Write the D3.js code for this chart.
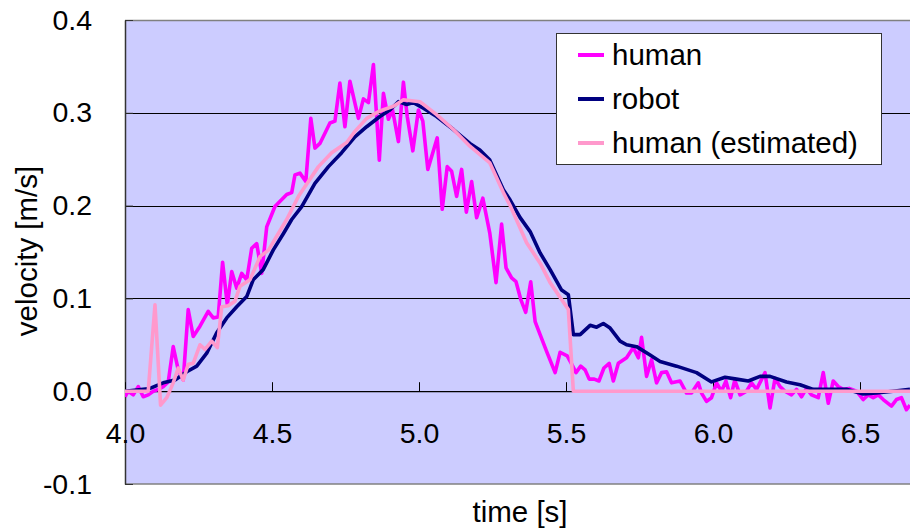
<!DOCTYPE html>
<html>
<head>
<meta charset="utf-8">
<script src="https://cdn.jsdelivr.net/npm/d3@7"></script>
<style>
  body { margin: 0; background: #fff; }
  text { font-family: "Liberation Sans", Arial, sans-serif; fill: #000; }
</style>
</head>
<body>
<div id="chart"></div>
<script>
// velocity vs time: human / robot / human (estimated)

// series names + colours (legend order)
const seriesNames = ["human", "robot", "human (estimated)"];
const seriesColors = ["#FF00FF", "#000080", "#FF99CC"];

// human measured
const humanT = [4.000,4.011,4.028,4.045,4.062,4.079,4.096,4.113,4.130,4.147,4.164,4.181,4.198,4.215,4.232,4.255,4.283,4.300,4.317,4.332,
  4.348,4.363,4.380,4.397,4.414,4.431,4.448,4.465,4.482,4.510,4.550,4.567,4.578,4.595,4.615,4.632,4.646,4.663,4.697,4.714,
  4.731,4.748,4.765,4.794,4.811,4.828,4.845,4.865,4.879,4.896,4.910,4.930,4.947,4.960,4.979,4.998,5.013,5.030,5.062,5.079,
  5.096,5.111,5.128,5.145,5.161,5.179,5.196,5.217,5.241,5.262,5.281,5.296,5.315,5.330,5.346,5.363,5.380,5.395,5.412,5.434,
  5.463,5.480,5.504,5.518,5.534,5.550,5.565,5.579,5.596,5.612,5.629,5.647,5.661,5.678,5.706,5.729,5.746,5.757,5.774,5.791,
  5.808,5.825,5.842,5.859,5.888,5.910,5.927,5.950,5.961,5.978,5.995,6.012,6.029,6.044,6.060,6.074,6.092,6.114,6.131,6.148,
  6.177,6.194,6.211,6.228,6.245,6.267,6.284,6.301,6.318,6.335,6.358,6.375,6.392,6.409,6.426,6.443,6.463,6.488,6.511,6.528,
  6.545,6.562,6.579,6.607,6.624,6.641,6.658,6.670];
const humanV = [-0.006,0.000,-0.004,0.005,-0.006,-0.004,0.000,0.002,0.005,0.010,0.048,0.023,0.012,0.088,0.059,0.070,0.086,0.079,0.080,0.139,
  0.093,0.129,0.111,0.127,0.120,0.154,0.159,0.127,0.177,0.199,0.212,0.214,0.233,0.235,0.226,0.294,0.262,0.267,0.289,0.291,
  0.332,0.285,0.334,0.294,0.315,0.311,0.352,0.249,0.321,0.293,0.303,0.269,0.333,0.296,0.259,0.303,0.291,0.239,0.273,0.196,
  0.242,0.237,0.210,0.239,0.193,0.226,0.187,0.208,0.170,0.117,0.180,0.133,0.122,0.118,0.099,0.085,0.118,0.075,0.061,0.043,
  0.020,0.042,0.038,0.030,0.020,0.027,0.023,0.013,0.013,0.011,0.025,0.030,0.011,0.030,0.036,0.047,0.036,0.058,0.016,0.034,
  0.009,0.020,0.021,0.009,0.011,-0.002,-0.002,0.009,-0.002,-0.011,-0.007,0.009,0.000,0.011,-0.007,0.012,-0.004,0.000,0.009,0.002,
  0.020,-0.018,0.014,0.005,0.000,-0.004,0.002,-0.006,0.003,-0.004,-0.007,0.020,-0.013,0.011,0.005,0.002,0.003,0.000,-0.009,-0.004,
  -0.007,-0.004,-0.009,-0.016,-0.009,-0.007,-0.020,-0.015];

// robot
const robotT = [4.000,4.085,4.130,4.170,4.210,4.244,4.278,4.312,4.346,4.380,4.414,4.436,4.470,4.504,4.539,4.567,4.601,4.646,4.692,4.737,
  4.782,4.822,4.867,4.901,4.930,4.958,4.981,5.015,5.060,5.117,5.173,5.207,5.241,5.287,5.310,5.344,5.378,5.412,5.446,5.485,
  5.508,5.525,5.548,5.582,5.604,5.627,5.650,5.684,5.706,5.740,5.786,5.820,5.876,5.944,5.995,6.041,6.080,6.120,6.160,6.194,
  6.250,6.296,6.341,6.397,6.454,6.511,6.556,6.612,6.670];
const robotV = [0.000,0.003,0.009,0.012,0.021,0.027,0.041,0.063,0.079,0.091,0.102,0.120,0.131,0.152,0.170,0.185,0.199,0.224,0.242,0.257,
  0.274,0.285,0.296,0.303,0.312,0.309,0.311,0.305,0.296,0.282,0.267,0.260,0.249,0.217,0.206,0.187,0.172,0.149,0.131,0.109,
  0.104,0.061,0.061,0.071,0.069,0.073,0.068,0.054,0.050,0.048,0.039,0.032,0.027,0.020,0.010,0.015,0.013,0.011,0.016,0.016,
  0.010,0.007,0.002,0.002,0.002,-0.003,-0.002,0.000,0.002];

// human (estimated)
const estT = [4.000,4.079,4.102,4.121,4.142,4.164,4.181,4.198,4.215,4.232,4.255,4.272,4.295,4.314,4.329,4.351,4.374,4.391,4.425,4.459,
  4.488,4.516,4.550,4.590,4.658,4.703,4.754,4.782,4.822,4.867,4.913,4.947,5.003,5.060,5.117,5.173,5.241,5.287,5.310,5.366,
  5.412,5.446,5.508,5.525,6.700];
const estV = [0.000,0.000,0.093,-0.015,-0.007,0.009,0.025,0.012,0.029,0.030,0.050,0.045,0.054,0.047,0.091,0.092,0.097,0.113,0.120,0.145,
  0.152,0.167,0.185,0.210,0.242,0.257,0.268,0.280,0.294,0.302,0.307,0.314,0.312,0.298,0.282,0.264,0.246,0.214,0.200,0.160,
  0.138,0.117,0.088,0.000,0.000];

const xTicks = [4.0, 4.5, 5.0, 5.5, 6.0, 6.5];
const yTicks = [-0.1, 0.0, 0.1, 0.2, 0.3, 0.4];
const gridVals = [0.1, 0.2, 0.3];

const W = 910, H = 532;
const pLeft = 125, pTop = 20, pBottom = 484, pRight = 1007;

const x = d3.scaleLinear().domain([4, 7]).range([pLeft, pRight]);
const y = d3.scaleLinear().domain([-0.1, 0.4]).range([pBottom, pTop]);

const svg = d3.select("#chart").append("svg")
  .attr("width", W).attr("height", H)
  .style("display", "block");

svg.append("rect").attr("width", W).attr("height", H).attr("fill", "#fff");

svg.append("defs").append("clipPath").attr("id", "plotclip")
  .append("rect").attr("x", pLeft).attr("y", pTop)
  .attr("width", pRight - pLeft).attr("height", pBottom - pTop);

// plot area
svg.append("rect")
  .attr("x", pLeft).attr("y", pTop)
  .attr("width", pRight - pLeft).attr("height", pBottom - pTop)
  .attr("fill", "#CCCCFF");

// top / bottom border
svg.append("line").attr("x1", pLeft).attr("x2", pRight).attr("y1", pTop + 0.5).attr("y2", pTop + 0.5)
  .attr("stroke", "#808080").attr("stroke-width", 1.5);
svg.append("line").attr("x1", pLeft).attr("x2", pRight).attr("y1", pBottom).attr("y2", pBottom)
  .attr("stroke", "#808080").attr("stroke-width", 1.5);

// grid
svg.append("g").selectAll("line").data(gridVals).enter().append("line")
  .attr("x1", pLeft).attr("x2", pRight)
  .attr("y1", d => Math.round(y(d)) + 0.5).attr("y2", d => Math.round(y(d)) + 0.5)
  .attr("stroke", "#000").attr("stroke-width", 1);

// y axis
const yAxis = svg.append("g")
  .attr("transform", `translate(${pLeft},0)`)
  .call(d3.axisLeft(y).tickValues(yTicks).tickFormat(d => d.toFixed(1))
    .tickSizeInner(-8).tickSizeOuter(0).tickPadding(33));
yAxis.select(".domain").attr("stroke", "#333").attr("stroke-width", 1.5);
yAxis.selectAll(".tick line").attr("stroke", "#333");
yAxis.selectAll("text").attr("font-size", 28.5).attr("font-family", "Liberation Sans, Arial, sans-serif");

// series lines
const line = d3.line().x(d => x(d[0])).y(d => y(d[1]));
const series = [
  humanT.map((t, i) => [t, humanV[i]]),
  robotT.map((t, i) => [t, robotV[i]]),
  estT.map((t, i) => [t, estV[i]])
];

// x axis at v = 0 (drawn under the lines)
const xAxis = svg.append("g")
  .attr("transform", `translate(0,${y(0)})`)
  .call(d3.axisBottom(x).tickValues(xTicks).tickFormat(d => d.toFixed(1))
    .tickSizeInner(-9).tickSizeOuter(0).tickPadding(32));
xAxis.select(".domain").attr("stroke", "#000").attr("stroke-width", 1.2);
xAxis.selectAll(".tick line").attr("stroke", "#000");
xAxis.selectAll("text").attr("font-size", 28.5).attr("font-family", "Liberation Sans, Arial, sans-serif");

const lineG = svg.append("g").attr("clip-path", "url(#plotclip)");
series.forEach((s, i) => {
  lineG.append("path").datum(s)
    .attr("d", line)
    .attr("fill", "none")
    .attr("stroke", seriesColors[i])
    .attr("stroke-width", 3.6)
    .attr("stroke-linejoin", "round");
});

// legend
const lg = svg.append("g");
lg.append("rect").attr("x", 556.5).attr("y", 33.5).attr("width", 325).attr("height", 131)
  .attr("fill", "#fff").attr("stroke", "#333").attr("stroke-width", 1);
seriesNames.forEach((n, i) => {
  const cy = 55 + i * 44;
  lg.append("line").attr("x1", 578).attr("x2", 604).attr("y1", cy).attr("y2", cy)
    .attr("stroke", seriesColors[i]).attr("stroke-width", 4);
  lg.append("text").attr("x", 612).attr("y", cy + 10).attr("font-size", 29.5).text(n);
});

// axis titles
svg.append("text").attr("x", 520).attr("y", 522).attr("text-anchor", "middle")
  .attr("font-size", 29.5).text("time [s]");
svg.append("text").attr("transform", "translate(37,251) rotate(-90)").attr("text-anchor", "middle")
  .attr("font-size", 29.5).text("velocity [m/s]");
</script>
</body>
</html>
